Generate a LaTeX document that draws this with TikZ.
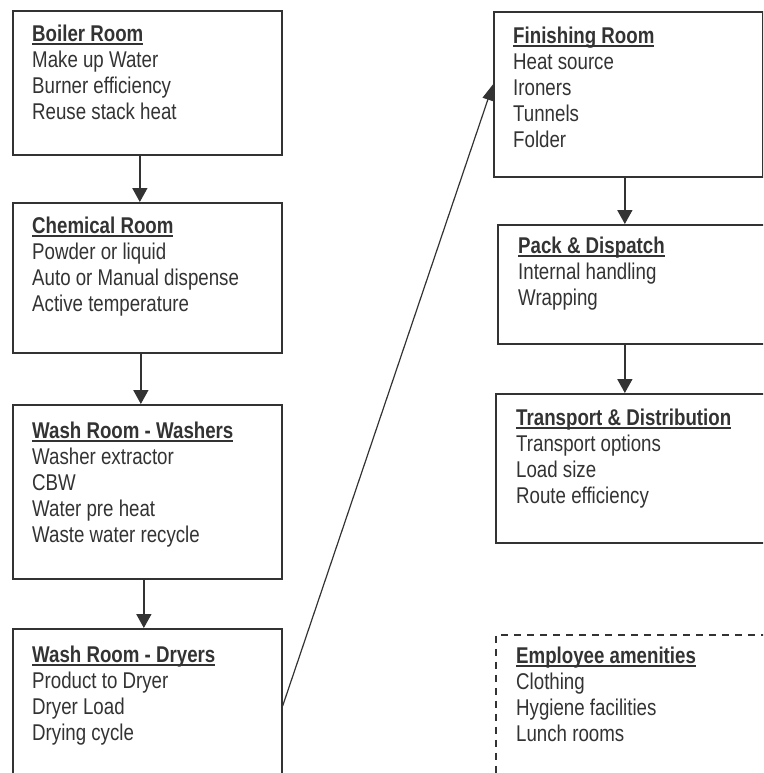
\documentclass[tikz,border=0pt]{standalone}
\usepackage{fontspec}
\setmainfont{Liberation Sans}[FakeStretch=0.82]
\usetikzlibrary{arrows.meta}

\definecolor{ink}{gray}{0.2}
\newsavebox{\headbox}
\newcommand{\roomhead}[1]{\sbox{\headbox}{\textbf{#1}}\usebox{\headbox}\llap{\rule[-3.3pt]{\wd\headbox}{1.5pt}}}

\begin{document}
\begin{tikzpicture}[
        x=1pt, y=-1pt,
        room/.style={rectangle, draw=ink, line width=1.7pt, inner sep=0pt, anchor=north west},
        roomdash/.style={room, line width=1.5pt, dash pattern=on 7pt off 6pt},
        roomtext/.style={align=left, inner sep=0pt, anchor=north west, text=ink, font=\fontsize{22.8pt}{26pt}\selectfont},
        flow/.style={draw=ink, line width=1.7pt, -{Triangle[width=15pt,length=14pt]}},
        jump/.style={draw=ink, line width=1.2pt, -{Triangle[width=11pt,length=16pt]}}
        ]
        \path[use as bounding box, fill=white] (0,0) rectangle (763,773);
        \clip (0,0) rectangle (763,773);

        % left column
        \node[room, minimum width=269pt, minimum height=144pt] (boiler) at (12,10) {};
        \node[room, minimum width=269pt, minimum height=150pt] (chem) at (12,202) {};
        \node[room, minimum width=269pt, minimum height=174pt] (washers) at (12,404) {};
        \node[room, minimum width=269pt, minimum height=154pt] (dryers) at (12,628) {};

        \node[roomtext] (boilertxt) at ([shift={(20pt,-14.5pt)}]boiler.north west)
            {\roomhead{Boiler Room}\\Make up Water\\Burner efficiency\\Reuse stack heat};
        \node[roomtext] (chemtxt) at ([shift={(20pt,-14.5pt)}]chem.north west)
            {\roomhead{Chemical Room}\\Powder or liquid\\Auto or Manual dispense\\Active temperature};
        \node[roomtext] (washerstxt) at ([shift={(20pt,-17.5pt)}]washers.north west)
            {\roomhead{Wash Room - Washers}\\Washer extractor\\CBW\\Water pre heat\\Waste water recycle};
        \node[roomtext] (dryerstxt) at ([shift={(20pt,-17.5pt)}]dryers.north west)
            {\roomhead{Wash Room - Dryers}\\Product to Dryer\\Dryer Load\\Drying cycle};

        % right column
        \node[room, minimum width=269pt, minimum height=165pt] (finish) at (493,11) {};
        \node[room, minimum width=290pt, minimum height=119pt] (pack) at (497,224) {};
        \node[room, minimum width=290pt, minimum height=149pt] (trans) at (495,393) {};
        \node[roomdash, minimum width=290pt, minimum height=160pt] (amen) at (495,634) {};

        \node[roomtext] (finishtxt) at ([shift={(20pt,-15.5pt)}]finish.north west)
            {\roomhead{Finishing Room}\\Heat source\\Ironers\\Tunnels\\Folder};
        \node[roomtext] (packtxt) at ([shift={(21pt,-12.5pt)}]pack.north west)
            {\roomhead{Pack \& Dispatch}\\Internal handling\\Wrapping};
        \node[roomtext] (transtxt) at ([shift={(21pt,-15.5pt)}]trans.north west)
            {\roomhead{Transport \& Distribution}\\Transport options\\Load size\\Route efficiency};
        \node[roomtext] (amentxt) at ([shift={(21pt,-12.5pt)}]amen.north west)
            {\roomhead{Employee amenities}\\Clothing\\Hygiene facilities\\Lunch rooms};

        \draw[flow] ([xshift=-7.5pt]boiler.south) -- ([xshift=-7.5pt]chem.north);
        \draw[flow] ([xshift=-6.5pt]chem.south) -- ([xshift=-6.5pt]washers.north);
        \draw[flow] ([xshift=-3.5pt]washers.south) -- ([xshift=-3.5pt]dryers.north);
        \draw[jump] (dryers.east) -- ([yshift=10pt]finish.west);
        \draw[flow] ([xshift=-3.5pt]finish.south) -- ([xshift=-3.5pt]finish.south |- pack.north);
        \draw[flow] ([xshift=-3.5pt]finish.south |- pack.south) -- ([xshift=-3.5pt]finish.south |- trans.north);
\end{tikzpicture}
\end{document}
